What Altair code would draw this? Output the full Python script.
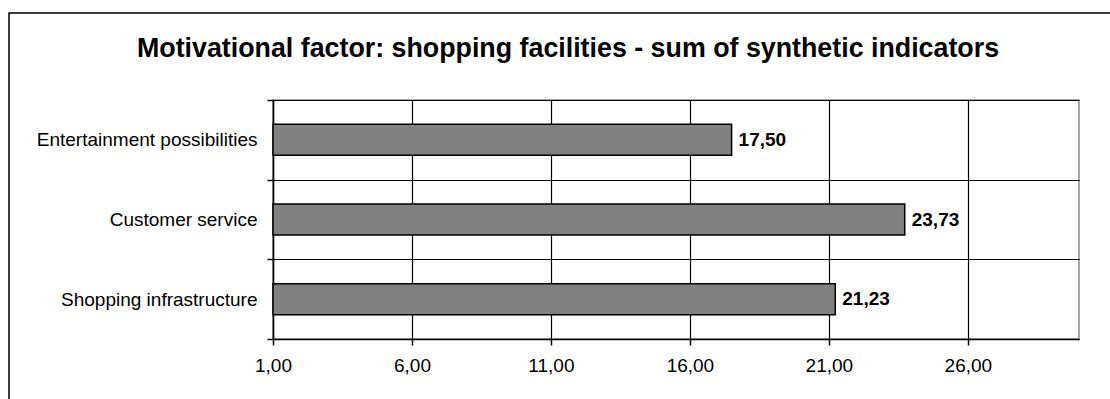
import altair as alt
import pandas as pd

categories = ["Entertainment possibilities", "Customer service", "Shopping infrastructure"]
values = [17.50, 23.73, 21.23]
tick_values = [1, 6, 11, 16, 21, 26]
x_domain = [1, 30]

df = pd.DataFrame({"category": categories, "value": values})
df["label"] = [f"{v:.2f}".replace(".", ",") for v in values]

FONT = "Liberation Sans"

base = alt.Chart(df)

y_enc = alt.Y(
    "category:N",
    sort=categories,
    scale=alt.Scale(paddingInner=0, paddingOuter=0),
    axis=alt.Axis(
        title=None,
        tickBand="extent",
        grid=True,
        labelLimit=400,
        labelPadding=10,
    ),
)

bars = base.mark_bar(color="#808080", stroke="black", strokeWidth=1.5, size=31).encode(
    x=alt.X(
        "value:Q",
        scale=alt.Scale(domain=x_domain, nice=False, zero=False),
        axis=alt.Axis(
            title=None,
            values=tick_values,
            labelExpr="replace(format(datum.value, '.2f'), '.', ',')",
            grid=True,
            labelPadding=11,
            labelFlush=False,
        ),
    ),
    x2=alt.datum(1),
    y=y_enc,
)

texts = base.mark_text(
    align="left", baseline="middle", dx=7, fontWeight="bold", fontSize=19, font=FONT, color="black"
).encode(
    x=alt.X("value:Q"),
    y=alt.Y("category:N", sort=categories),
    text="label:N",
)

border = alt.Chart(pd.DataFrame({"a": [0]})).mark_rect(
    fill=None, stroke="black", strokeWidth=1.5, clip=False
).encode(
    x=alt.value(-264), x2=alt.value(1000), y=alt.value(-87), y2=alt.value(500)
)

chart = (
    alt.layer(bars, texts, border)
    .properties(
        width=806,
        height=239,
        autosize="none",
        padding={"left": 273, "top": 100, "right": 31, "bottom": 60},
        title=alt.Title(
            "Motivational factor: shopping facilities - sum of synthetic indicators",
            font=FONT,
            fontSize=26.8,
            fontWeight="bold",
            color="black",
            anchor="middle",
            frame="group",
            dx=-108,
            baseline="alphabetic",
            offset=0,
            dy=72,
        ),
    )
    .configure(font=FONT)
    .configure_view(stroke="#8c8c8c", strokeWidth=1.5)
    .configure_axis(
        labelFont=FONT,
        labelFontSize=19,
        labelColor="black",
        domainColor="black",
        domainWidth=1.5,
        tickColor="black",
        tickWidth=1.5,
        tickSize=6,
        gridColor="black",
        gridWidth=1.2,
    )
)

chart.save("out.html", embed_options={"renderer": "svg", "actions": False})
